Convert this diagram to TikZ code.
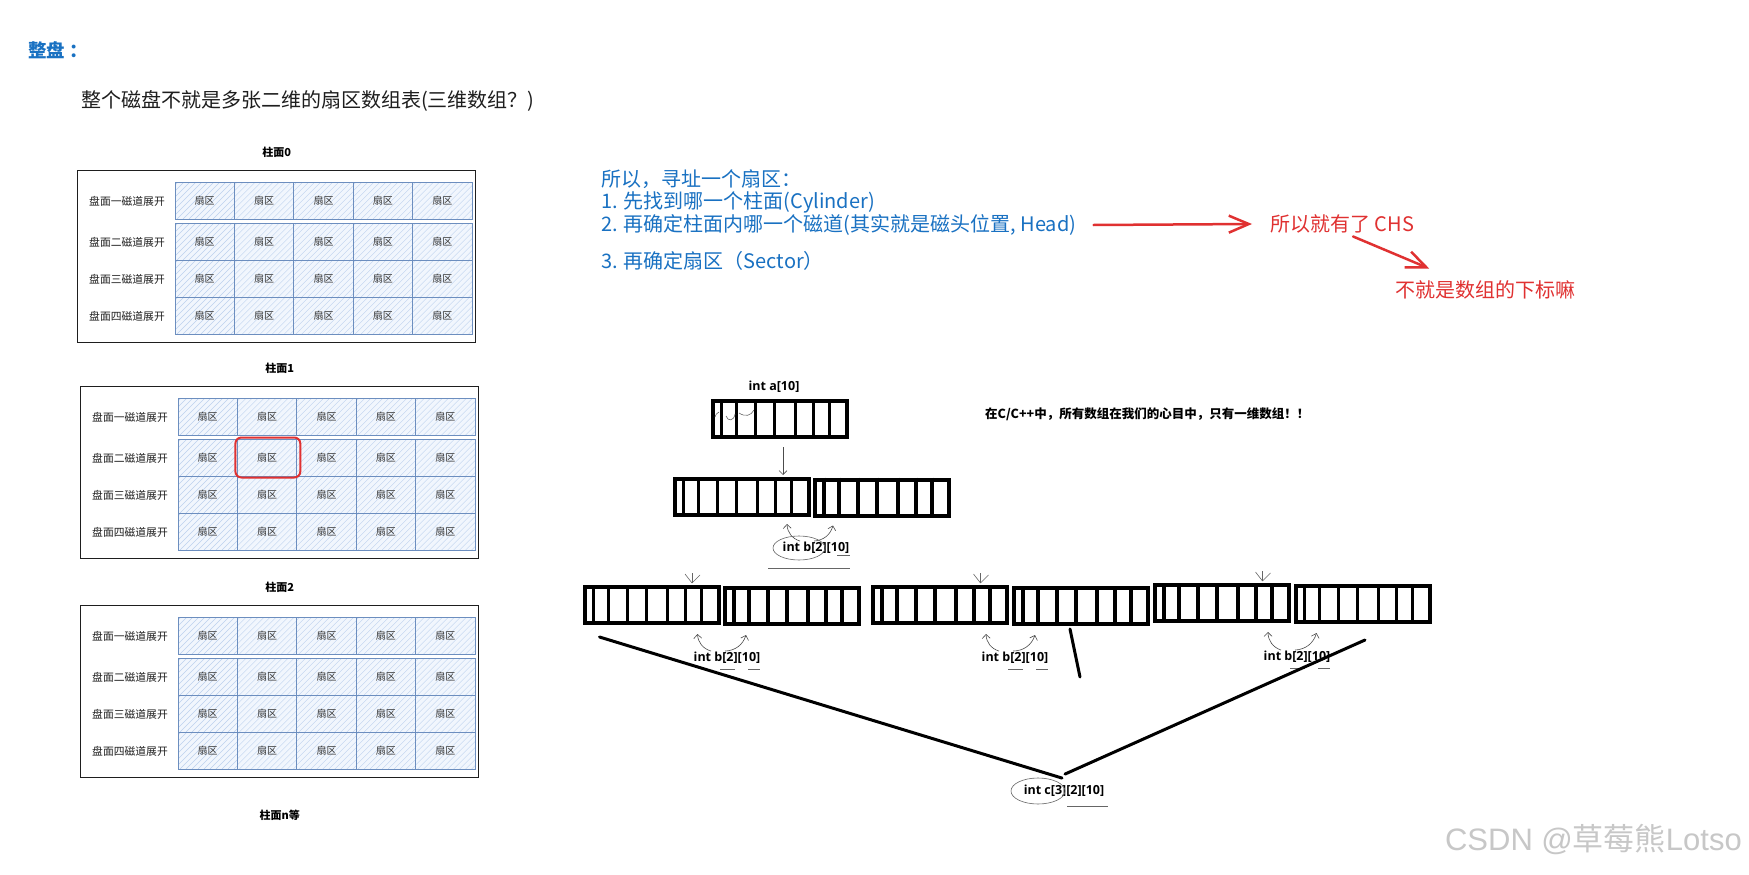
\documentclass[tikz,border=0pt]{standalone}
\usepackage{fontspec}
\setmainfont{Noto Sans CJK SC}
\newfontfamily\codefont{Open Sans}
\newfontfamily\markfont{Liberation Sans}
\usetikzlibrary{arrows.meta, positioning, calc}
\definecolor{NoteBlue}{HTML}{1971C2}
\definecolor{NoteRed}{HTML}{E03131}
\definecolor{SectorEdge}{HTML}{6C8EBF}
\definecolor{SectorFill}{HTML}{F1F6FD}
\definecolor{SectorHatch}{HTML}{BCD1EE}
\definecolor{InkDark}{HTML}{1E1E1E}

\begin{document}
\begin{tikzpicture}[
    x=1pt, y=-1pt,
    panelbox/.style={draw=InkDark, line width=1.3pt, minimum width=398pt, minimum height=172pt, inner sep=0pt},
    sector/.style={draw=SectorEdge, line width=1pt, fill=SectorFill, minimum width=59.4pt, minimum height=37pt,
        inner sep=0pt, text=black!80, font=\fontsize{10}{12}\selectfont,
        path picture={\foreach \h in {0,6,...,96}
            \draw[SectorHatch, line width=0.4pt] ([xshift={(\h-40)*1pt}]path picture bounding box.south west) -- ++(40pt,40pt);}},
    tracklabel/.style={text=InkDark, font=\fontsize{10.8}{12}\selectfont},
    paneltitle/.style={font=\bfseries\fontsize{11}{13}\selectfont},
    selbox/.style={draw=NoteRed, line width=2pt, rounded corners=6pt},
    note/.style={text=NoteBlue, font=\fontsize{20}{22}\selectfont, anchor=west, inner sep=0pt},
    rednote/.style={text=NoteRed, font=\fontsize{20}{22}\selectfont, anchor=west, inner sep=0pt},
    redarrow/.style={draw=NoteRed, line width=2.5pt, line cap=round, -{Straight Barb[length=20pt, width=17pt]}},
    arrbox/.style={draw=black, line width=4pt, minimum width=134pt, minimum height=36pt, inner sep=0pt},
    divider/.style={line width=3.5pt},
    codelabel/.style={font=\codefont\bfseries\fontsize{12.5}{14}\selectfont, inner sep=1pt},
    pointer/.style={draw=black!70, line width=0.6pt, -{Straight Barb[length=4pt, width=8pt]}},
    scribble/.style={draw=black!60, line width=0.6pt},
    treeline/.style={draw=black, line width=3pt, line cap=round}
]
\fill[white] (0,0) rectangle (1749,875);
\useasboundingbox (0,0) rectangle (1749,875);

% Heading
\node[anchor=west, inner sep=0pt, text=NoteBlue, font=\bfseries\fontsize{18.5}{20}\selectfont] (head) at (28,50) {整盘\hspace{4pt}：};
\node[anchor=west, inner sep=0pt, text=InkDark, font=\fontsize{20}{22}\selectfont] (intro) at (81,101) {整个磁盘不就是多张二维的扇区数组表(三维数组？)};

% Draw the three cylinder panels
\foreach \p/\px/\py in {0/77/170, 1/80/386, 2/80/605} {
    \node[panelbox, anchor=north west] (p\p) at (\px,\py) {};
    \node[paneltitle, above=9pt of p\p] (t\p) {柱面\p};
    \foreach \row/\trk/\ry in {1/一/12, 2/二/53, 3/三/90, 4/四/127} {
        \node[tracklabel] (r\p-\row) at ({\px+50}, {\py+\ry+19}) {盘面{\trk}磁道展开};
        \foreach \col in {1,...,5} {
            \node[sector] (sec\p-\row-\col) at ({\px+98+(\col-0.5)*59.4}, {\py+\ry+18.5}) {扇区};
        }
    }
}
\node[paneltitle, below=28pt of p2] (tn) {柱面n等};

% Selected sector
\draw[selbox] ([xshift=-1.5pt,yshift=1pt]sec1-2-2.north west) rectangle ([xshift=3pt,yshift=-1pt]sec1-2-2.south east);

% Addressing notes
\node[note] (n0) at (601,179) {所以，寻址一个扇区：};
\node[note] (n1) at (601,202) {1. 先找到哪一个柱面(Cylinder)};
\node[note] (n2) at (601,225) {2. 再确定柱面内哪一个磁道(其实就是磁头位置, Head)};
\node[note] (n3) at (601,261) {3. 再确定扇区（Sector）};

\node[rednote] (chs) at (1270,224) {所以就有了 CHS};
\node[rednote] (sub) at (1395,290) {不就是数组的下标嘛};
\draw[redarrow] ([xshift=17pt]n2.east) -- ([xshift=-18pt]chs.west);
\draw[redarrow] ([xshift=11pt,yshift=-3pt]chs.south) -- ([xshift=-56pt,yshift=12pt]sub.north);

\node[anchor=west, inner sep=0pt, font=\bfseries\fontsize{12.5}{14}\selectfont] (msg) at (985,414) {在C/C++中，所有数组在我们的心目中，只有一维数组！！};

% Arrays
\node[codelabel] (la) at (774,387) {int a[10]};
\node[arrbox] (arra) at (779.5,419) {};
\node[arrbox] (arrb1) at (741.5,497) {};
\node[arrbox] (arrb2) at (882,497.5) {};
\foreach \n/\ax/\ay in {arrc1/651.5/605, arrc2/792/606, arrc3/940/605, arrc4/1081/606, arrc5/1222/603, arrc6/1362.5/604} {
    \node[arrbox] (\n) at (\ax,\ay) {};
}
% Cell dividers
\foreach \n in {arra, arrb1, arrb2, arrc1, arrc2, arrc3, arrc4, arrc5, arrc6} {
    \foreach \d in {11,26,45,64,85,103,119} {
        \draw[divider] ([xshift=\d pt]\n.north west) -- ([xshift=\d pt]\n.south west);
    }
}
\draw[scribble] (715,417) .. controls (716,414) .. (719,412);
\draw[scribble] (726,416) .. controls (728,422) and (734,421) .. (735,414);
\draw[scribble] (739,413) .. controls (745,417) and (751,416) .. (754,410);

% a -> b
\draw[pointer] ([xshift=3.5pt,yshift=-8pt]arra.south) -- ([xshift=41.5pt,yshift=2pt]arrb1.north);

\node[codelabel] (lb) at (816,548) {int b[2][10]};
\draw[pointer] ([xshift=-16pt]lb.north) to[bend left=35] ([xshift=45.5pt,yshift=-7pt]arrb1.south);
\draw[pointer] ([xshift=-2pt]lb.north) to[bend right=35] ([xshift=-49pt,yshift=-8pt]arrb2.south);
\draw[scribble] ([xshift=-17pt]lb.center) ellipse [x radius=26pt, y radius=12pt];
\draw[scribble] ([xshift=21pt,yshift=-7pt]lb.center) -- ++(13pt,0pt);
\draw[scribble] ([xshift=-48pt,yshift=-20pt]lb.center) -- ++(82pt,0pt);

% Tips on top of the lower arrays
\foreach \n in {arrc1, arrc3, arrc5} {
    \foreach \dx/\dy in {-7/9, 0/10, 8/8} {
        \draw[scribble] ([xshift={(40.5+\dx)*1pt}, yshift={(2+\dy)*1pt}]\n.north) -- ([xshift=40.5pt,yshift=2pt]\n.north);
    }
}

% Lower labels
\foreach \i/\lft/\rgt/\lx/\ly in {1/arrc1/arrc2/727/658, 2/arrc3/arrc4/1015/658, 3/arrc5/arrc6/1297/657} {
    \node[codelabel] (lc\i) at (\lx,\ly) {int b[2][10]};
    \draw[pointer] ([xshift=-16pt]lc\i.north) to[bend left=35] ([xshift=46pt,yshift=-9pt]\lft.south);
    \draw[pointer] ([xshift=-2pt]lc\i.north) to[bend right=35] ([xshift=-46pt,yshift=-9pt]\rgt.south);
    \draw[scribble] ([xshift=-7pt,yshift=-11pt]lc\i.center) -- ++(15pt,0pt);
    \draw[scribble] ([xshift=21pt,yshift=-11pt]lc\i.center) -- ++(12pt,0pt);
}

% Three-dimensional array
\node[codelabel] (lc) at (1064,791) {int c[3][2][10]};
\coordinate (tail) at (1080,677);
\draw[treeline] ([xshift=17pt,yshift=-12pt]arrc1.south west) -- ([xshift=-2pt,yshift=6pt]lc.north);
\draw[treeline] ([xshift=-11pt,yshift=-3pt]arrc4.south) -- (tail);
\draw[treeline] ([xshift=2.5pt,yshift=-16pt]arrc6.south) -- ([xshift=1pt,yshift=10pt]lc.north);
\draw[scribble] ([xshift=-26pt]lc.center) ellipse [x radius=27pt, y radius=13pt];
\draw[scribble] ([xshift=3pt,yshift=-15pt]lc.center) -- ++(41pt,0pt);

% Watermark
\node[anchor=east, inner sep=0pt, text=black!22, font=\fontsize{31}{34}\selectfont] (wm) at (1742,839) {{\markfont CSDN @}草莓熊{\markfont Lotso}};
\end{tikzpicture}
\end{document}
